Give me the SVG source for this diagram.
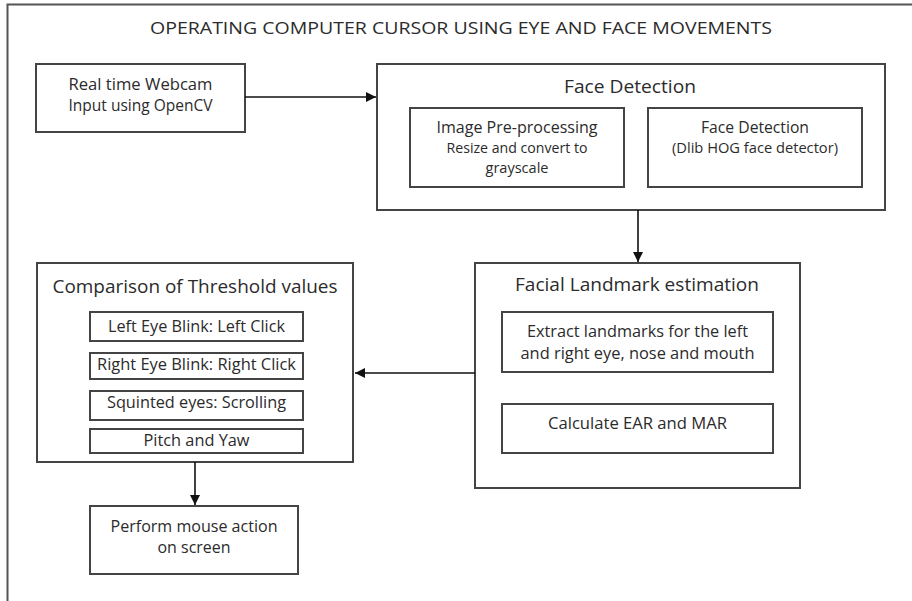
<svg xmlns="http://www.w3.org/2000/svg" width="912" height="601" viewBox="0 0 912 601">
<defs>
<style>
.box{fill:#fff;stroke:#444;stroke-width:2}
.t{font-family:"Open Sans","Liberation Sans",sans-serif;fill:#2b2b2b;text-anchor:middle}
.conn{stroke:#111;stroke-width:1.6;fill:none}
</style>
<marker id="ah" viewBox="0 0 10 10" refX="10" refY="5" markerWidth="10" markerHeight="10" markerUnits="userSpaceOnUse" orient="auto">
<path d="M0,0 L10,5 L0,10 Z" fill="#111"/>
</marker>
</defs>
<rect width="912" height="601" fill="#fff"/>
<path d="M7.5,601 V4.5 H912" fill="none" stroke="#555" stroke-width="2"/>
<text class="t" x="461" y="34" font-size="17" textLength="622" lengthAdjust="spacingAndGlyphs">OPERATING COMPUTER CURSOR USING EYE AND FACE MOVEMENTS</text>

<g id="webcam">
<rect class="box" x="36" y="64" width="209" height="68"/>
<text class="t" x="140.5" y="90" font-size="16" textLength="144" lengthAdjust="spacingAndGlyphs">Real time Webcam</text>
<text class="t" x="140.5" y="111" font-size="16" textLength="144" lengthAdjust="spacingAndGlyphs">Input using OpenCV</text>
</g>

<g id="face-detection">
<rect class="box" x="377" y="64" width="508" height="146"/>
<text class="t" x="630" y="93" font-size="19" textLength="132" lengthAdjust="spacingAndGlyphs">Face Detection</text>
<g id="preprocessing">
<rect class="box" x="410" y="108" width="214" height="79"/>
<text class="t" x="517" y="133" font-size="16" textLength="161" lengthAdjust="spacingAndGlyphs">Image Pre-processing</text>
<text class="t" x="517" y="153" font-size="14" textLength="141" lengthAdjust="spacingAndGlyphs">Resize and convert to</text>
<text class="t" x="517" y="173" font-size="14" textLength="63" lengthAdjust="spacingAndGlyphs">grayscale</text>
</g>
<g id="hog-detector">
<rect class="box" x="648" y="108" width="214" height="79"/>
<text class="t" x="755" y="133" font-size="16" textLength="108" lengthAdjust="spacingAndGlyphs">Face Detection</text>
<text class="t" x="755" y="153" font-size="14" textLength="166" lengthAdjust="spacingAndGlyphs">(Dlib HOG face detector)</text>
</g>
</g>

<g id="landmark">
<rect class="box" x="475" y="263" width="325" height="225"/>
<text class="t" x="637" y="291" font-size="19" textLength="244" lengthAdjust="spacingAndGlyphs">Facial Landmark estimation</text>
<g id="extract">
<rect class="box" x="502" y="312" width="271" height="60"/>
<text class="t" x="637.5" y="337" font-size="16" textLength="221" lengthAdjust="spacingAndGlyphs">Extract landmarks for the left</text>
<text class="t" x="637.5" y="359" font-size="16" textLength="234" lengthAdjust="spacingAndGlyphs">and right eye, nose and mouth</text>
</g>
<g id="ear-mar">
<rect class="box" x="502" y="404" width="271" height="49"/>
<text class="t" x="637.5" y="429" font-size="16" textLength="179" lengthAdjust="spacingAndGlyphs">Calculate EAR and MAR</text>
</g>
</g>

<g id="threshold">
<rect class="box" x="37" y="263" width="316" height="199"/>
<text class="t" x="195" y="293" font-size="19" textLength="285" lengthAdjust="spacingAndGlyphs">Comparison of Threshold values</text>
<g id="left-blink">
<rect class="box" x="90" y="312" width="213" height="29"/>
<text class="t" x="196.5" y="332" font-size="16" textLength="177" lengthAdjust="spacingAndGlyphs">Left Eye Blink: Left Click</text>
</g>
<g id="right-blink">
<rect class="box" x="90" y="353" width="213" height="26"/>
<text class="t" x="196.5" y="370" font-size="16" textLength="199" lengthAdjust="spacingAndGlyphs">Right Eye Blink: Right Click</text>
</g>
<g id="squint">
<rect class="box" x="90" y="391" width="213" height="29"/>
<text class="t" x="196.5" y="408" font-size="16" textLength="179" lengthAdjust="spacingAndGlyphs">Squinted eyes: Scrolling</text>
</g>
<g id="pitch-yaw">
<rect class="box" x="90" y="429" width="213" height="24"/>
<text class="t" x="196.5" y="446" font-size="16" textLength="106" lengthAdjust="spacingAndGlyphs">Pitch and Yaw</text>
</g>
</g>

<g id="mouse-action">
<rect class="box" x="90" y="506" width="208" height="68"/>
<text class="t" x="194" y="532" font-size="16" textLength="167" lengthAdjust="spacingAndGlyphs">Perform mouse action</text>
<text class="t" x="194" y="553" font-size="16" textLength="73" lengthAdjust="spacingAndGlyphs">on screen</text>
</g>

<g id="connectors">
<line class="conn" x1="245" y1="97" x2="376" y2="97" marker-end="url(#ah)"/>
<line class="conn" x1="638" y1="210" x2="638" y2="262" marker-end="url(#ah)"/>
<line class="conn" x1="475" y1="373" x2="355" y2="373" marker-end="url(#ah)"/>
<line class="conn" x1="195" y1="462" x2="195" y2="505" marker-end="url(#ah)"/>
</g>
</svg>
